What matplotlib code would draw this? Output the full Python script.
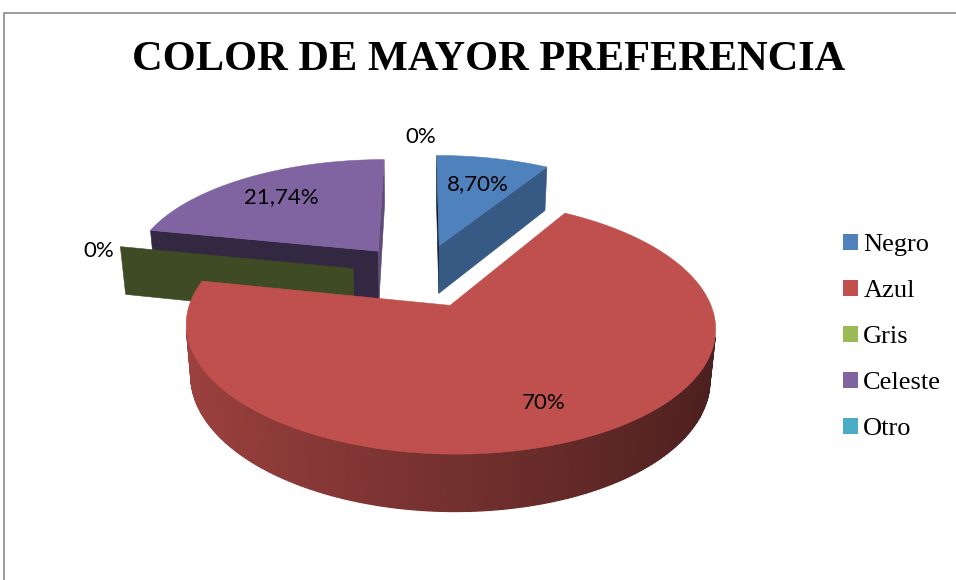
import numpy as np
import matplotlib.pyplot as plt
import matplotlib.colors as mcolors
from matplotlib.patches import Polygon, Patch

# data (percent of answers)
categories = ['Negro', 'Azul', 'Gris', 'Celeste', 'Otro']
values = [8.70, 69.56, 0.0, 21.74, 0.0]
value_labels = ['8,70%', '70%', '0%', '21,74%', '0%']
colors = ['#4F81BD', '#C0504D', '#9BBB59', '#8064A2', '#4BACC6']

# 3d look
phi = np.radians(27)      # elevation
D = 5.5                   # camera distance (perspective)
S = 250                   # px per radius
cx, cy = 421, 275
T = 0.225                 # thickness
explode = 0.28
label_r = [0.68, 0.76, 1.1, 0.72, 1.3]

cam = np.array([0.0, D * np.sin(phi), -D * np.cos(phi)])


def proj(X, Y, Z):
    yw = Z * np.sin(phi) + Y * np.cos(phi)
    d = Z * np.cos(phi) - Y * np.sin(phi)
    s = D / (D + d)
    return cx + S * X * s, cy - S * yw * s


def shade(c, f):
    return tuple(np.clip(np.array(mcolors.to_rgb(c)) * f, 0, 1))


def visible(n, p):
    return np.dot(n, cam - p) > 1e-6


fig = plt.figure(figsize=(9.56, 5.8), dpi=100)
ax = fig.add_axes([0, 0, 1, 1])
ax.set_xlim(0, 956)
ax.set_ylim(580, 0)
ax.axis('off')

total = sum(values)
bounds = np.concatenate([[0], np.cumsum(values)]) / total * 2 * np.pi

slices = []
for i in range(len(values)):
    t1, t2 = bounds[i], bounds[i + 1]
    mid = (t1 + t2) / 2
    slices.append((i, t1, t2, mid, explode * np.sin(mid), explode * np.cos(mid)))

# paint far slices first
for i, t1, t2, mid, ox, oz in sorted(slices, key=lambda s: -s[5]):
    base = colors[i]

    def poly(pts, col, lw=0.4):
        xy = [proj(*p) for p in pts]
        ax.add_patch(Polygon(xy, closed=True, facecolor=col, edgecolor=col, lw=lw))

    # outer wall
    n = max(2, int(np.degrees(t2 - t1)) + 2)
    th = np.linspace(t1, t2, n)
    for a, b in zip(th[:-1], th[1:]):
        m = (a + b) / 2
        nrm = np.array([np.sin(m), 0, np.cos(m)])
        p = np.array([ox + np.sin(m), -T / 2, oz + np.cos(m)])
        if t2 > t1 and visible(nrm, p):
            col = shade(base, 0.6 - 0.22 * np.sin(m))
            poly([(ox + np.sin(a), 0, oz + np.cos(a)), (ox + np.sin(b), 0, oz + np.cos(b)),
                  (ox + np.sin(b), -T, oz + np.cos(b)), (ox + np.sin(a), -T, oz + np.cos(a))],
                 col, lw=0.9)

    # radial faces
    for t, nrm in [(t1, np.array([-np.cos(t1), 0, np.sin(t1)])),
                   (t2, np.array([np.cos(t2), 0, -np.sin(t2)]))]:
        p = np.array([ox + 0.5 * np.sin(t), -T / 2, oz + 0.5 * np.cos(t)])
        if visible(nrm, p):
            col = shade(base, 0.457 + 0.285 * nrm[0])
            poly([(ox, 0, oz), (ox + np.sin(t), 0, oz + np.cos(t)),
                  (ox + np.sin(t), -T, oz + np.cos(t)), (ox, -T, oz)], col)

    # top face
    if t2 > t1:
        arc = np.linspace(t1, t2, 200)
        pts = [(ox, 0, oz)] + [(ox + np.sin(a), 0, oz + np.cos(a)) for a in arc]
        poly(pts, base)

# value labels
for i, t1, t2, mid, ox, oz in slices:
    r = label_r[i]
    y3 = 0 if values[i] > 0 else -T / 8
    x, y = proj(ox + r * np.sin(mid), y3, oz + r * np.cos(mid))
    ax.text(x, y, value_labels[i], ha='center', va='center', fontsize=16,
            family='Lato', color='black')

# title
ax.text(489, 60, 'COLOR DE MAYOR PREFERENCIA', ha='center', va='center',
        fontsize=30.5, fontweight='bold', family='Liberation Serif')

# chart frame (cropped)
ax.plot([4.5, 4.5, 956], [580, 12.5, 12.5], color='#8c8c8c', lw=1.2, solid_joinstyle='miter')

handles = [Patch(facecolor=c, edgecolor='none') for c in colors]
ax.legend(handles, categories, loc='center left', bbox_to_anchor=(843 / 956, 1 - 337 / 580),
          frameon=False, prop={'family': 'Liberation Serif', 'size': 19},
          handlelength=0.57, handleheight=0.55, handletextpad=0.2,
          labelspacing=0.9, borderpad=0, borderaxespad=0)

fig.savefig('out.png', dpi=100)
